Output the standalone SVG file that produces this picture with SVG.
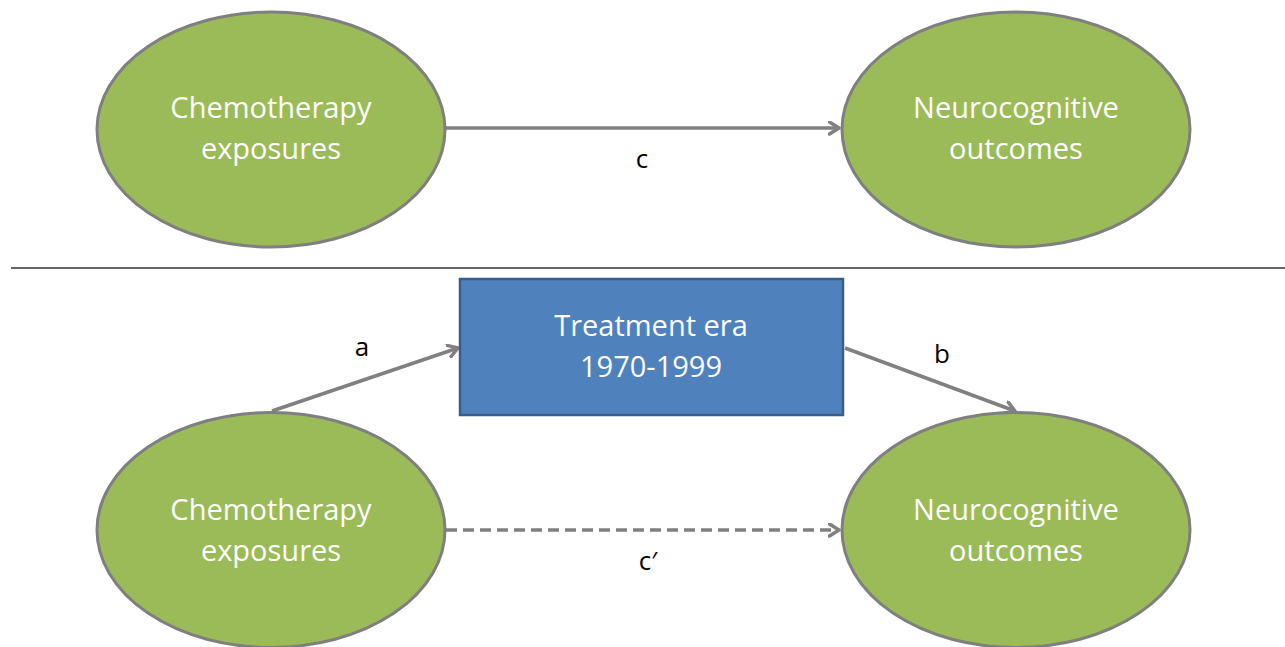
<svg xmlns="http://www.w3.org/2000/svg" width="1285" height="647" viewBox="0 0 1285 647">
<defs>
<style>
.ell{fill:#9BBB59;stroke:#7F7F7F;stroke-width:3}
.box{fill:#4F81BD;stroke:#385D8A;stroke-width:2.5}
.nt{font-family:"Open Sans","Liberation Sans",sans-serif;font-size:29px;fill:#FFFFFF;text-anchor:middle}
.lb{font-family:"Open Sans","Liberation Sans",sans-serif;font-size:26px;fill:#000000;text-anchor:middle}
.cn{stroke:#808080;stroke-width:3.5;fill:none;marker-end:url(#ah)}
</style>
<marker id="ah" markerWidth="13" markerHeight="15" refX="11" refY="7.5" orient="auto" markerUnits="userSpaceOnUse">
<path d="M1.5,1.5 L11,7.5 L1.5,13.5" fill="none" stroke="#808080" stroke-width="3.5" stroke-linecap="round" stroke-linejoin="round"/>
</marker>
</defs>
<rect width="1285" height="647" fill="#FFFFFF"/>
<line x1="11" y1="268" x2="1285" y2="268" stroke="#333333" stroke-width="1.5"/>
<g id="connectors">
<line class="cn" x1="446" y1="128" x2="839" y2="128"/>
<line class="cn" x1="446" y1="530" x2="839" y2="530" stroke-dasharray="11,6"/>
<line class="cn" x1="272" y1="411" x2="458" y2="348"/>
<line class="cn" x1="845" y1="348" x2="1015" y2="411"/>
</g>
<g id="labels">
<text class="lb" x="642" y="168">c</text>
<text class="lb" x="648" y="570">c′</text>
<text class="lb" x="362" y="356">a</text>
<text class="lb" x="942" y="363">b</text>
</g>
<g id="chemo-top">
<ellipse class="ell" cx="271" cy="129.5" rx="174" ry="117.5"/>
<text class="nt" x="271" y="118">Chemotherapy</text>
<text class="nt" x="271" y="159">exposures</text>
</g>
<g id="neuro-top">
<ellipse class="ell" cx="1016" cy="129.5" rx="174" ry="117.5"/>
<text class="nt" x="1016" y="118">Neurocognitive</text>
<text class="nt" x="1016" y="159">outcomes</text>
</g>
<g id="era">
<rect class="box" x="460" y="279" width="383" height="136"/>
<text class="nt" x="651" y="336">Treatment era</text>
<text class="nt" x="651" y="377">1970-1999</text>
</g>
<g id="chemo-bottom">
<ellipse class="ell" cx="271" cy="530" rx="174" ry="117.5"/>
<text class="nt" x="271" y="520">Chemotherapy</text>
<text class="nt" x="271" y="561">exposures</text>
</g>
<g id="neuro-bottom">
<ellipse class="ell" cx="1016" cy="530" rx="174" ry="117.5"/>
<text class="nt" x="1016" y="520">Neurocognitive</text>
<text class="nt" x="1016" y="561">outcomes</text>
</g>
</svg>
